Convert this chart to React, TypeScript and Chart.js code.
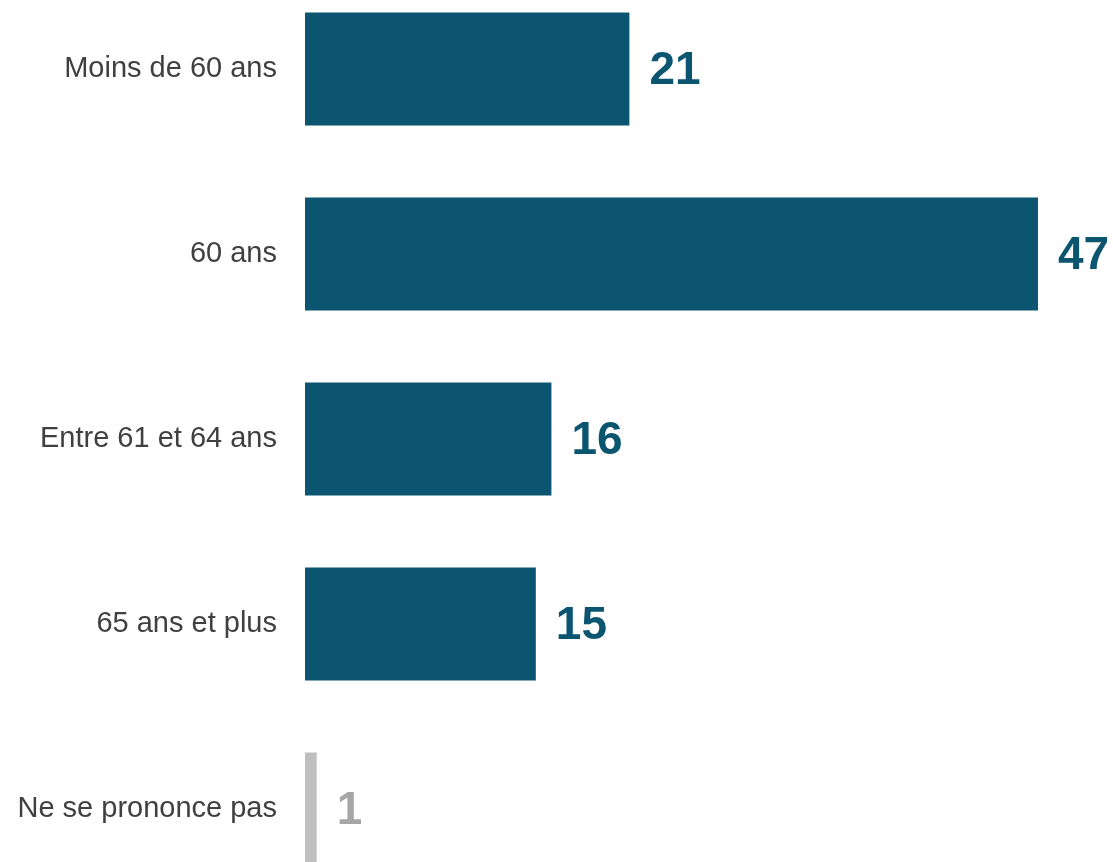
import React, { useEffect, useRef } from "react";
import { Chart, registerables } from "chart.js";

Chart.register(...registerables);

const categories = [
  "Moins de 60 ans",
  "60 ans",
  "Entre 61 et 64 ans",
  "65 ans et plus",
  "Ne se prononce pas",
];
const values = [20.8, 47, 15.8, 14.8, 0.75];
const valueLabels = ["21", "47", "16", "15", "1"];
const barColors = ["#0b5571", "#0b5571", "#0b5571", "#0b5571", "#bfbfbf"];
const labelColors = ["#0b5571", "#0b5571", "#0b5571", "#0b5571", "#a6a6a6"];

const FONT = "'Liberation Sans', Arial, Helvetica, sans-serif";

const valueLabelPlugin = {
  id: "valueLabels",
  afterDatasetsDraw(chart: any) {
    const ctx = chart.ctx;
    const meta = chart.getDatasetMeta(0);
    ctx.save();
    ctx.font = `bold 46px ${FONT}`;
    ctx.textAlign = "left";
    ctx.textBaseline = "middle";
    meta.data.forEach((bar: any, i: number) => {
      ctx.fillStyle = labelColors[i];
      ctx.fillText(valueLabels[i], bar.x + 20, bar.y + 2);
    });
    ctx.restore();
  },
};

export default function App() {
  const ref = useRef<HTMLCanvasElement | null>(null);
  useEffect(() => {
    if (!ref.current) return;
    const chart = new Chart(ref.current, {
      type: "bar",
      data: {
        labels: categories,
        datasets: [
          {
            data: values,
            backgroundColor: barColors,
            borderWidth: 0,
            categoryPercentage: 1,
            barPercentage: 0.611,
          },
        ],
      },
      options: {
        indexAxis: "y",
        animation: false,
        responsive: false,
        maintainAspectRatio: false,
        layout: { padding: { left: 0, right: 75, top: 0, bottom: 0 } },
        plugins: {
          legend: { display: false },
          tooltip: { enabled: false },
        },
        scales: {
          x: {
            display: false,
            min: 0,
            max: 47,
          },
          y: {
            grid: { display: false, drawTicks: false },
            border: { display: false },
            ticks: {
              padding: 28,
              color: "#404040",
              font: { family: FONT, size: 29 },
            },
            afterFit(scale: any) {
              scale.width = 305;
            },
          },
        },
      },
      plugins: [valueLabelPlugin],
    });
    return () => chart.destroy();
  }, []);

  return (
    <div
      style={{
        position: "fixed",
        left: 0,
        top: 0,
        width: 1113,
        height: 862,
        overflow: "hidden",
        background: "#ffffff",
      }}
    >
      <canvas
        ref={ref}
        width={1113}
        height={1016}
        style={{
          position: "absolute",
          left: 0,
          top: -69,
          width: 1113,
          height: 1016,
          display: "block",
        }}
      />
    </div>
  );
}
